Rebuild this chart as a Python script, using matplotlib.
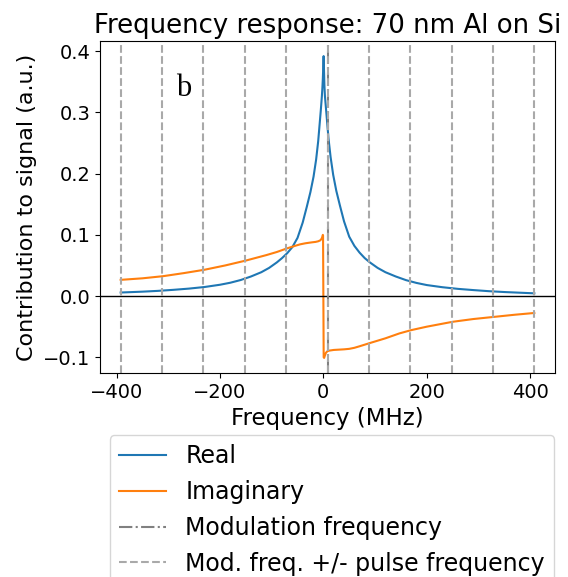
import matplotlib
matplotlib.use("Agg")
import matplotlib.pyplot as plt
import numpy as np

plt.rcParams['font.family'] = ['DejaVu Sans']
plt.rcParams['font.size'] = 14

# Real part of the frequency response (MHz, a.u.)
real_freq = [-392, -380, -350, -320, -290, -260, -230, -200, -180, -160, -140,
             -120, -105, -90, -80, -70, -60, -50, -40, -32, -25, -19, -14, -10,
             -7, -5, -3, -2, -1, 0.5, 2, 3, 5, 7, 10, 14, 19, 25, 32, 40, 50, 60,
             70, 80, 90, 105, 120, 140, 160, 180, 200, 230, 260, 290, 320, 350,
             380, 408]
real_vals = [0.0058, 0.0062, 0.0072, 0.0085, 0.0102, 0.0122, 0.0148, 0.0185,
             0.0218, 0.0262, 0.032, 0.039, 0.046, 0.055, 0.062, 0.070, 0.080,
             0.095, 0.120, 0.146, 0.170, 0.195, 0.223, 0.253, 0.283, 0.303,
             0.325, 0.338, 0.355, 0.392, 0.345, 0.327, 0.307, 0.287, 0.257,
             0.227, 0.198, 0.172, 0.148, 0.122, 0.097, 0.082, 0.071, 0.062,
             0.055, 0.046, 0.039, 0.032, 0.026, 0.0215, 0.018, 0.0145, 0.0118,
             0.0098, 0.0080, 0.0066, 0.0055, 0.0045]

# Imaginary part
imag_freq = [-392, -350, -310, -270, -230, -190, -150, -110, -90, -70, -55, -45,
             -35, -27, -20, -15, -10, -6, -4, -2.5, -1.5, -1, -0.6, 0.6, 1.5, 3,
             5, 8, 12, 20, 30, 40, 50, 60, 70, 90, 120, 147, 170, 200, 250, 290,
             330, 370, 408]
imag_vals = [0.0265, 0.029, 0.0325, 0.0375, 0.043, 0.050, 0.058, 0.067, 0.072,
             0.078, 0.082, 0.0845, 0.0862, 0.0872, 0.088, 0.0885, 0.0895, 0.091,
             0.093, 0.0955, 0.0985, 0.100, 0.099, -0.100, -0.101, -0.097,
             -0.0925, -0.090, -0.089, -0.088, -0.0875, -0.087, -0.0862, -0.0845,
             -0.082, -0.0767, -0.069, -0.061, -0.0556, -0.050, -0.042, -0.0375,
             -0.034, -0.0305, -0.0276]

mod_freq = 8          # MHz
pulse_freq = 80       # MHz
sideband_orders = [-5, -4, -3, -2, -1, 0, 1, 2, 3, 4, 5]

fig = plt.figure(figsize=(5.68, 5.77), dpi=100)
ax = fig.add_axes([100/568, (577-373)/577, 455/568, 332/577])

l_real, = ax.plot(real_freq, real_vals, color='C0', lw=1.5, label='Real')
l_imag, = ax.plot(imag_freq, imag_vals, color='C1', lw=1.5, label='Imaginary')
ax.axhline(0, color='black', lw=1)
l_mod = ax.axvline(mod_freq, color='gray', ls='-.', lw=1.5, label='Modulation frequency')
l_side = None
for n in sideband_orders:
    f = mod_freq + n*pulse_freq
    l = ax.axvline(f, color='darkgray', ls='--', lw=1.5,
                   label='Mod. freq. +/- pulse frequency' if l_side is None else None)
    if l_side is None:
        l_side = l

ax.set_xlabel('Frequency (MHz)', fontsize=16.5)
ax.set_ylabel('Contribution to signal (a.u.)', fontsize=16)
ax.set_title('Frequency response: 70 nm Al on Si', fontsize=18.7)
ax.text(0.168, 0.90, 'b', transform=ax.transAxes, fontsize=22,
        family='Liberation Serif', va='top', ha='left')

fig.legend(handles=[l_real, l_imag, l_mod, l_side], loc='upper center',
           bbox_to_anchor=(332/568, (577-423)/577), fontsize=17)

fig.savefig('out.png', dpi=100)
